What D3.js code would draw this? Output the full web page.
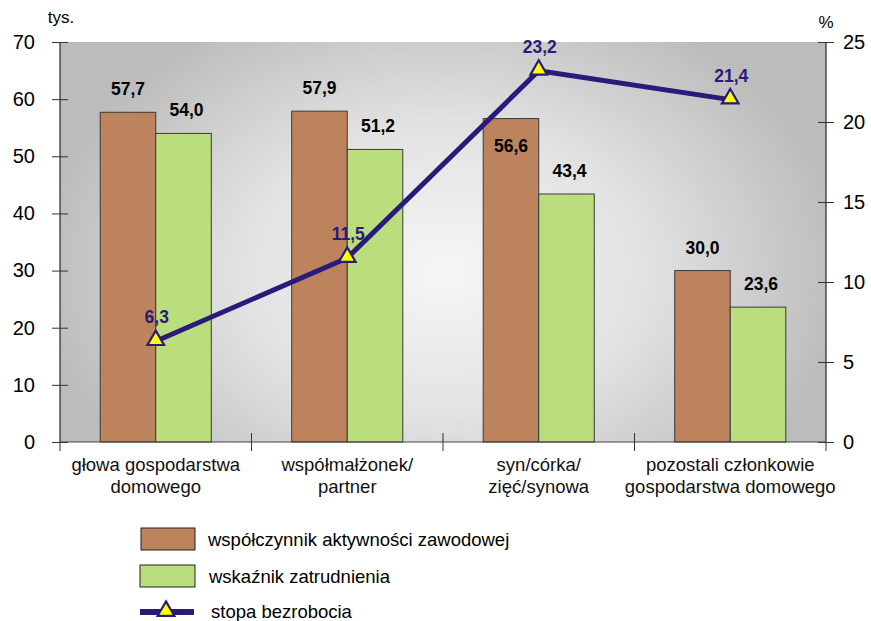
<!DOCTYPE html>
<html><head><meta charset="utf-8">
<script src="https://cdn.jsdelivr.net/npm/d3@7"></script>
<style>body{margin:0;background:#fff}svg{display:block}text{font-family:Arial,"Liberation Sans",sans-serif}</style>
</head><body>
<svg id="c" width="871" height="621"></svg>
<script>
const categories = [["głowa gospodarstwa","domowego"],["współmałżonek/","partner"],["syn/córka/","zięć/synowa"],["pozostali członkowie","gospodarstwa domowego"]];
const activity = [57.7, 57.9, 56.6, 30.0];
const employment = [54.0, 51.2, 43.4, 23.6];
const unemployment = [6.3, 11.5, 23.2, 21.4];
const leftTicks = [0,10,20,30,40,50,60,70];
const rightTicks = [0,5,10,15,20,25];
const seriesNames = ["współczynnik aktywności zawodowej","wskaźnik zatrudnienia","stopa bezrobocia"];

const svg = d3.select("#c");
const L=60, R=826, T=42, B=442;
const fmt = v => v.toFixed(1).replace(".", ",");
const brown="#bd835c", green="#badd7e", navy="#2a1a7a";
const FF = "Arial, 'Liberation Sans', sans-serif";

const defs = svg.append("defs");
const rg = defs.append("radialGradient").attr("id","bg").attr("gradientUnits","userSpaceOnUse")
  .attr("cx",(L+R)/2).attr("cy",(T+B)/2+40).attr("r",(R-L)/2*1.05)
  .attr("gradientTransform",`translate(${(L+R)/2},${(T+B)/2}) scale(1,${(B-T)/(R-L)*1.4}) translate(${-(L+R)/2},${-(T+B)/2})`);
rg.append("stop").attr("offset","0").attr("stop-color","#f6f6f6");
rg.append("stop").attr("offset","0.5").attr("stop-color","#e2e2e2");
rg.append("stop").attr("offset","1").attr("stop-color","#bcbcbc");
svg.append("rect").attr("x",L).attr("y",T).attr("width",R-L).attr("height",B-T).attr("fill","url(#bg)");

const x = d3.scaleBand().domain(d3.range(categories.length)).range([L,R]);
const yL = d3.scaleLinear().domain([0,70]).range([B,T]);
const yR = d3.scaleLinear().domain([0,25]).range([B,T]);
const bw = x.bandwidth()*0.29;
const cx = i => x(i)+x.bandwidth()/2;

// bars
const g = svg.append("g");
g.selectAll(".b1").data(activity).join("rect")
  .attr("x",(d,i)=>cx(i)-bw).attr("y",d=>yL(d)).attr("width",bw).attr("height",d=>B-yL(d))
  .attr("fill",brown).attr("stroke","#3a3a3a").attr("stroke-width",1);
g.selectAll(".b2").data(employment).join("rect")
  .attr("x",(d,i)=>cx(i)).attr("y",d=>yL(d)).attr("width",bw).attr("height",d=>B-yL(d))
  .attr("fill",green).attr("stroke","#3a3a3a").attr("stroke-width",1);

// axes
const axL = svg.append("g").attr("transform",`translate(${L},0)`).call(d3.axisLeft(yL).tickValues(leftTicks).tickSize(8).tickPadding(17));
const axR = svg.append("g").attr("transform",`translate(${R},0)`).call(d3.axisRight(yR).tickValues(rightTicks).tickSize(8).tickPadding(9));
[axL,axR].forEach(a=>{a.select(".domain").attr("stroke","#000");a.selectAll("text").attr("font-size",20).attr("fill","#000").attr("font-family",FF);a.selectAll(".tick line").attr("stroke","#333");});
axL.selectAll(".tick line").attr("x1",8);
axR.selectAll(".tick line").attr("x1",-8);
axL.select(".domain").attr("d",`M0,${T}V${B}`);
axR.select(".domain").attr("d",`M0,${T}V${B}`);

// bottom axis
svg.append("line").attr("x1",L).attr("x2",R).attr("y1",B).attr("y2",B).attr("stroke","#444");
const bt = d3.range(categories.length+1).map(i=> i<categories.length ? x(i) : R);
svg.selectAll(".bt").data(bt).join("line").attr("x1",d=>d).attr("x2",d=>d)
  .attr("y1",(d,i)=> (i==0||i==bt.length-1)?B:B-9).attr("y2",B+9).attr("stroke","#333");
categories.forEach((c,i)=>{
  const t = svg.append("text").attr("x",cx(i)).attr("y",471).attr("text-anchor","middle").attr("font-size",18.5).attr("fill","#111");
  c.forEach((ln,j)=>t.append("tspan").attr("x",cx(i)).attr("dy",j?22:0).text(ln));
});

// units
svg.append("text").attr("x",61).attr("y",23).attr("text-anchor","middle").attr("font-size",17).text("tys.");
svg.append("text").attr("x",826).attr("y",28).attr("text-anchor","middle").attr("font-size",17).text("%");

// line y at a given x (to avoid label collisions)
const lineYAt = px => {
  for (let i=0;i<unemployment.length-1;i++){
    const x0=cx(i), x1=cx(i+1);
    if (px>=x0 && px<=x1){ const t=(px-x0)/(x1-x0); return yR(unemployment[i])*(1-t)+yR(unemployment[i+1])*t; }
  }
  return null;
};

// bar labels
svg.selectAll(".l1").data(activity).join("text")
  .attr("x",(d,i)=>cx(i)-bw/2)
  .attr("y",(d,i)=>{ const above=yL(d)-17, ly=lineYAt(cx(i)-bw/2); return (ly!==null && Math.abs(ly-(above-6))<22) ? yL(d)+33 : above; })
  .attr("text-anchor","middle").attr("font-size",17.5).attr("font-weight","bold").text(d=>fmt(d));
svg.selectAll(".l2").data(employment).join("text")
  .attr("x",(d,i)=>cx(i)+bw/2+3).attr("y",d=>yL(d)-17)
  .attr("text-anchor","middle").attr("font-size",17.5).attr("font-weight","bold").text(d=>fmt(d));

// line
const line = d3.line().x((d,i)=>cx(i)).y(d=>yR(d));
svg.append("path").datum(unemployment).attr("d",line).attr("fill","none").attr("stroke",navy).attr("stroke-width",5).attr("stroke-linejoin","round");
const tri = d3.symbol().type(d3.symbolTriangle).size(120);
svg.selectAll(".m").data(unemployment).join("path").attr("d",tri)
  .attr("transform",(d,i)=>`translate(${cx(i)},${yR(d)-1})`).attr("fill","#ffff00").attr("stroke",navy).attr("stroke-width",2.2);
svg.selectAll(".ll").data(unemployment).join("text")
  .attr("x",(d,i)=>cx(i)+1).attr("y",d=>yR(d)-18)
  .attr("text-anchor","middle").attr("font-size",17.5).attr("font-weight","bold").attr("fill",navy).text(d=>fmt(d));

// legend
const lg = svg.append("g");
lg.append("rect").attr("x",141).attr("y",528).attr("width",54).attr("height",22).attr("fill",brown).attr("stroke","#222");
lg.append("text").attr("x",208).attr("y",546).attr("font-size",18.5).text(seriesNames[0]);
lg.append("rect").attr("x",140).attr("y",565).attr("width",55).attr("height",22).attr("fill",green).attr("stroke","#222");
lg.append("text").attr("x",209).attr("y",583).attr("font-size",18.5).text(seriesNames[1]);
lg.append("line").attr("x1",140).attr("x2",194).attr("y1",612).attr("y2",612).attr("stroke",navy).attr("stroke-width",6);
lg.append("path").attr("d",tri).attr("transform","translate(166,611)").attr("fill","#ffff00").attr("stroke",navy).attr("stroke-width",2.2);
lg.append("text").attr("x",211).attr("y",618).attr("font-size",18.5).text(seriesNames[2]);
</script>
</body></html>
